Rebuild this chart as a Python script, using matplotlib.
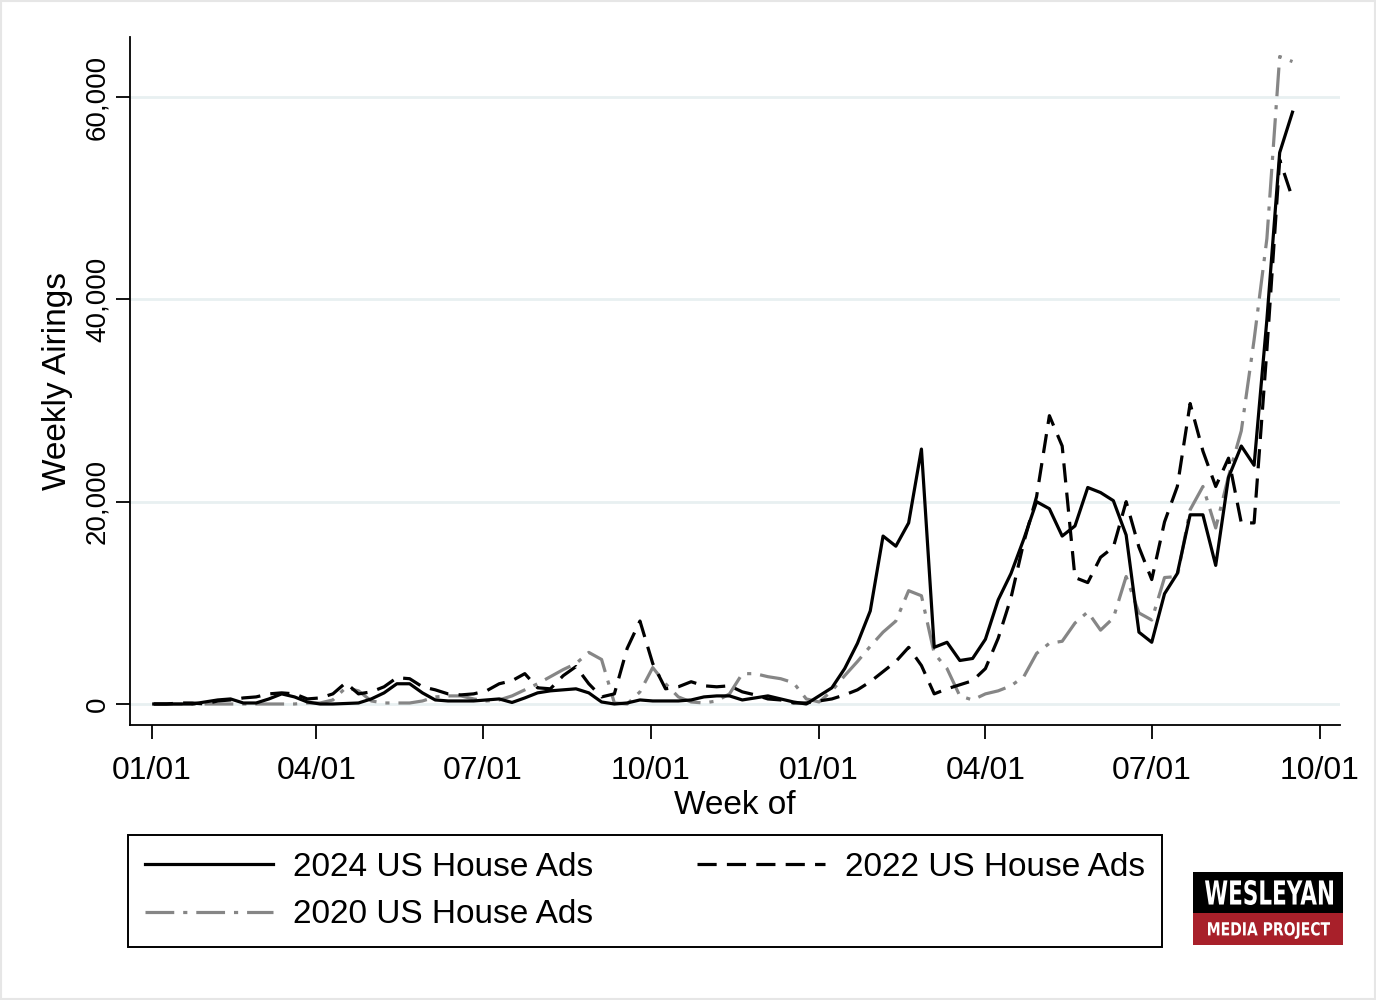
import pandas as pd
import matplotlib
matplotlib.use("Agg")
import matplotlib.pyplot as plt
import matplotlib.dates as mdates
from matplotlib.patches import Rectangle, PathPatch
from matplotlib.textpath import TextPath
from matplotlib.font_manager import FontProperties
from matplotlib.transforms import Affine2D, IdentityTransform
from matplotlib.ticker import FuncFormatter

plt.rcParams["font.family"] = ["Liberation Sans", "DejaVu Sans"]

# ---------- data (weekly airings) ----------
# weeks run from early January of the off-year to mid September of election year
weeks = pd.date_range("2023-01-02", periods=90, freq="7D")

house_2024 = [
    0, 0, 0, 0, 200, 400, 500, 100, 100, 500,
    1000, 700, 200, 0, 0, 50, 100, 500, 1100, 2000,
    2000, 1100, 400, 300, 300, 300, 400, 500, 150, 600,
    1100, 1300, 1400, 1500, 1100, 200, 0, 100, 400, 300,
    300, 300, 400, 700, 800, 800, 400, 600, 800, 500,
    200, 0, 800, 1600, 3500, 6000, 9200, 16600, 15600, 17900,
    25200, 5600, 6100, 4300, 4500, 6400, 10300, 12900, 16300, 20000,
    19300, 16600, 17600, 21400, 20900, 20100, 16700, 7100, 6100, 10900,
    12900, 18700, 18700, 13700, 22400, 25500, 23600, 38000, 54500, 58500,
]

house_2022 = [
    0, 0, 100, 100, 0, 300, 400, 600, 700, 1000,
    1100, 1000, 500, 600, 1000, 2100, 1000, 1200, 1700, 2600,
    2500, 1700, 1400, 1000, 900, 1000, 1300, 2000, 2300, 3000,
    1600, 1500, 2800, 3700, 2000, 700, 1000, 5500, 8200, 4000,
    1500, 1700, 2200, 1800, 1700, 1800, 1200, 900, 500, 400,
    100, 100, 300, 500, 900, 1400, 2200, 3200, 4200, 5600,
    3800, 1000, 1500, 1900, 2300, 3500, 6500, 10500, 16000, 20500,
    28500, 25500, 12500, 12000, 14500, 15500, 20000, 15500, 12300, 18000,
    21500, 29700, 25000, 21500, 24300, 17900, 17900, 35000, 53800, 50000,
]

house_2020 = [
    0, 0, 0, 0, 0, 0, 0, 0, 0, 0,
    0, 0, 100, 100, 400, 1600, 1300, 300, 100, 100,
    100, 300, 700, 800, 800, 500, 300, 400, 800, 1400,
    2000, 2700, 3400, 4000, 5100, 4400, 100, 0, 1200, 3600,
    2000, 700, 200, 100, 300, 1000, 3000, 3000, 2700, 2500,
    2100, 500, 200, 1300, 2800, 4200, 5700, 7100, 8200, 11200,
    10700, 5000, 3500, 800, 400, 1000, 1300, 1800, 2700, 5000,
    6000, 6200, 8000, 9100, 7300, 8500, 12600, 9000, 8300, 12500,
    12600, 19200, 21500, 17400, 22500, 27000, 36000, 46000, 64000, 63500,
]

labels = ["2024 US House Ads", "2022 US House Ads", "2020 US House Ads"]
tick_dates = pd.to_datetime([
    "2023-01-01", "2023-04-01", "2023-07-01", "2023-10-01",
    "2024-01-01", "2024-04-01", "2024-07-01", "2024-10-01",
])
y_ticks = [0, 20000, 40000, 60000]

W, H = 1376, 1000

# ---------- helpers ----------
def squeezed_text(fig, s, x0, x1, y0, y1, color="white"):
    """Draw text squeezed into a pixel box (origin top-left), like a condensed font."""
    fp = FontProperties(family="DejaVu Sans", weight="bold")
    tp = TextPath((0, 0), s, size=10, prop=fp)
    ext = tp.get_extents()
    sx = (x1 - x0) / ext.width
    sy = (y1 - y0) / ext.height
    tr = (Affine2D().translate(-ext.x0, -ext.y0).scale(sx, sy)
          .translate(x0, H - y1))
    fig.patches.append(PathPatch(tr.transform_path(tp), facecolor=color,
                                 edgecolor="none", transform=IdentityTransform()))

# ---------- figure ----------
fig = plt.figure(figsize=(W / 100, H / 100), dpi=100)
fig.patch.set_facecolor("white")
fig.patches.append(Rectangle((0.001, 0.001), 0.998, 0.998, transform=fig.transFigure,
                             fill=False, edgecolor="#e6e6e6", linewidth=1.5))

ax = fig.add_axes([130 / W, 1 - 725 / H, 1210 / W, 688 / H])

grid_col = "#e8f0f1"
for v in y_ticks:
    ax.axhline(v, color=grid_col, linewidth=2, zorder=0)

l24, = ax.plot(weeks, house_2024, color="black", linewidth=2.3, zorder=4)
l22, = ax.plot(weeks, house_2022, color="black", linewidth=2.3,
               linestyle=(0, (6, 3.2)), zorder=3)
l20, = ax.plot(weeks, house_2020, color="#868686", linewidth=2.3,
               linestyle=(0, (9, 2.8, 1.3, 2.8)), zorder=2)

ax.set_xlim(pd.Timestamp("2022-12-20"), pd.Timestamp("2024-10-12"))
ax.set_ylim(-2076, 65930)

ax.set_xticks(tick_dates)
ax.xaxis.set_major_formatter(mdates.DateFormatter("%m/%d"))
ax.set_yticks(y_ticks)
ax.yaxis.set_major_formatter(FuncFormatter(lambda v, p: f"{int(v):,}"))

ax.tick_params(axis="x", length=10, width=1.3, pad=12, labelsize=23)
ax.tick_params(axis="y", length=10, width=1.3, pad=4, labelsize=20, labelrotation=90)
for t in ax.get_yticklabels():
    t.set_va("center")

for s in ["top", "right"]:
    ax.spines[s].set_visible(False)
for s in ["left", "bottom"]:
    ax.spines[s].set_linewidth(1.3)

ax.set_xlabel("Week of", fontsize=24, labelpad=3)
ax.set_ylabel("Weekly Airings", fontsize=24, labelpad=8)

# legend below the plot
fig.legend([l24, l20, l22], [labels[0], labels[2], labels[1]], ncol=2,
           loc="upper left", mode="expand",
           bbox_to_anchor=(128 / W, 1 - 946 / H, (1162 - 128) / W, 111 / H),
           fontsize=24, frameon=True, fancybox=False, edgecolor="black",
           framealpha=1, handlelength=3.85, handletextpad=0.6,
           borderpad=0.5, labelspacing=0.5, borderaxespad=0)
fig.legends[0].get_frame().set_linewidth(1.4)

# logo
fig.patches.append(Rectangle((1193 / W, 1 - 913 / H), 150 / W, 41 / H,
                             transform=fig.transFigure, facecolor="black", edgecolor="none"))
fig.patches.append(Rectangle((1193 / W, 1 - 945 / H), 150 / W, 32 / H,
                             transform=fig.transFigure, facecolor="#a8202a", edgecolor="none"))
squeezed_text(fig, "WESLEYAN", 1205, 1333, 880, 905)
squeezed_text(fig, "MEDIA PROJECT", 1208, 1330, 922, 939)

fig.savefig("out.png", dpi=100)
